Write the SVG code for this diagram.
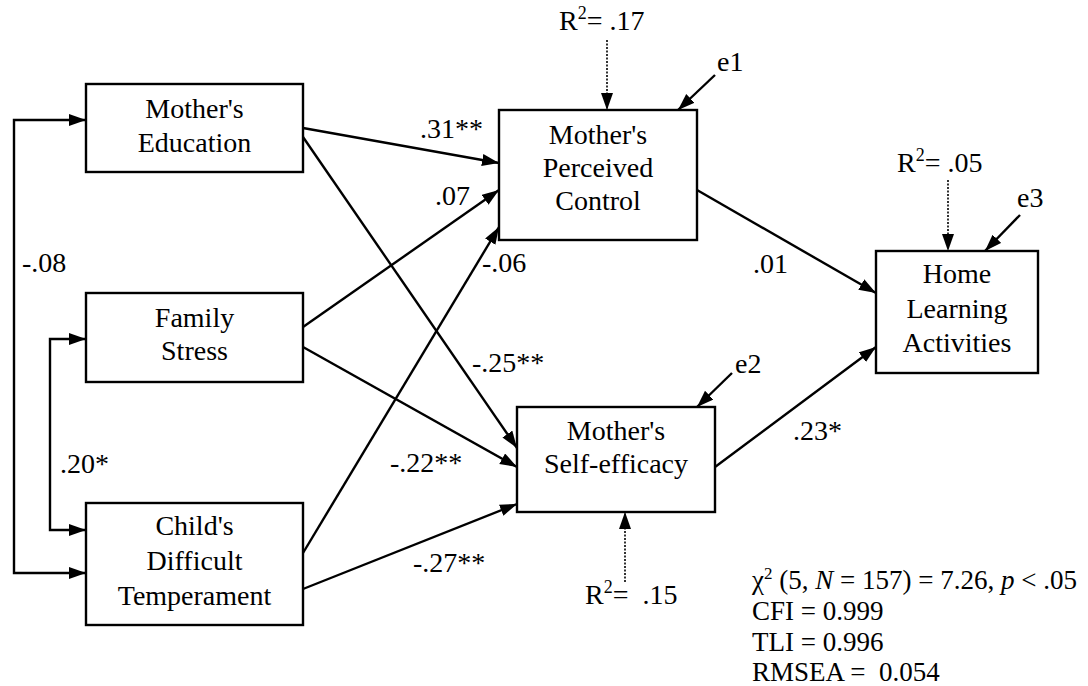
<svg xmlns="http://www.w3.org/2000/svg" width="1088" height="686" viewBox="0 0 1088 686" font-family="'Liberation Serif', 'Times New Roman', serif">
<style>
text{font-family:"Liberation Serif","Times New Roman",serif;font-size:28px;fill:#000;white-space:pre}
.node rect{fill:#fff;stroke:#000;stroke-width:2.4}
.node text{text-anchor:middle}
.edge{fill:none;stroke:#000;stroke-width:2.4;marker-end:url(#ah)}
.dot{fill:none;stroke:#000;stroke-width:1.6;stroke-dasharray:2 1.5;marker-end:url(#ah)}
text.stats{font-size:27px}
</style>
<defs>
<marker id="ah" markerUnits="userSpaceOnUse" markerWidth="18" markerHeight="13" refX="17" refY="6" orient="auto" viewBox="0 0 18 13">
<path d="M0,0 L17,6 L0,12 Z" fill="#000"/>
</marker>
</defs>
<rect width="1088" height="686" fill="#fff"/>
<g id="connectors">
<path class="edge" d="M14,346 V120 H86"/>
<path class="edge" d="M14,346 V573 H86"/>
<path class="edge" d="M50,430 V339 H86"/>
<path class="edge" d="M50,430 V530 H86"/>
<path class="edge" d="M303,128 L499,163"/>
<path class="edge" d="M303,137 L517,448"/>
<path class="edge" d="M303,327 L499,190"/>
<path class="edge" d="M303,347 L517,467"/>
<path class="edge" d="M303,553 L499,227"/>
<path class="edge" d="M303,589 L517,504"/>
<path class="edge" d="M697,190 L876,293"/>
<path class="edge" d="M715,467 L876,347"/>
<path class="edge" d="M715,75 L678,110"/>
<path class="edge" d="M732,373 L697,407"/>
<path class="edge" d="M1020,215 L985,251"/>
<path class="dot" d="M607,40 V110"/>
<path class="dot" d="M948,180 V251"/>
<path class="dot" d="M625,582 V512"/>
<text x="22" y="272">-.08</text>
<text x="60" y="473">.20*</text>
<text x="420" y="138">.31**</text>
<text x="435" y="205">.07</text>
<text x="482" y="272">-.06</text>
<text x="472" y="372">-.25**</text>
<text x="390" y="472">-.22**</text>
<text x="413" y="572">-.27**</text>
<text x="753" y="273">.01</text>
<text x="793" y="440">.23*</text>
<text x="717" y="71">e1</text>
<text x="735" y="373">e2</text>
<text x="1017" y="207">e3</text>
<text x="559" y="30">R<tspan dy="-11" font-size="18">2</tspan><tspan dy="11">= .17</tspan></text>
<text x="897" y="172">R<tspan dy="-11" font-size="18">2</tspan><tspan dy="11">= .05</tspan></text>
<text x="585" y="604">R<tspan dy="-11" font-size="18">2</tspan><tspan dy="11">=  .15</tspan></text>
</g>
<g id="n-mother-education" class="node">
<rect x="86" y="84" width="217" height="88"/>
<text x="194.5" y="118">Mother's</text>
<text x="194.5" y="152">Education</text>
</g>
<g id="n-family-stress" class="node">
<rect x="86" y="293" width="217" height="89"/>
<text x="194.5" y="327">Family</text>
<text x="194.5" y="360">Stress</text>
</g>
<g id="n-child-temperament" class="node">
<rect x="86" y="503" width="217" height="122"/>
<text x="194.5" y="535">Child's</text>
<text x="194.5" y="570">Difficult</text>
<text x="194.5" y="605">Temperament</text>
</g>
<g id="n-perceived-control" class="node">
<rect x="499" y="110" width="198" height="130"/>
<text x="598" y="144">Mother's</text>
<text x="598" y="177">Perceived</text>
<text x="598" y="210">Control</text>
</g>
<g id="n-self-efficacy" class="node">
<rect x="517" y="407" width="198" height="105"/>
<text x="616" y="440">Mother's</text>
<text x="616" y="473">Self-efficacy</text>
</g>
<g id="n-home-learning" class="node">
<rect x="876" y="251" width="162" height="122"/>
<text x="957" y="283">Home</text>
<text x="957" y="318">Learning</text>
<text x="957" y="352">Activities</text>
</g>
<g id="fit-stats">
<text class="stats" x="752" y="589">χ<tspan dy="-10" font-size="17">2</tspan><tspan dy="10"> (5, </tspan><tspan font-style="italic">N</tspan> = 157) = 7.26, <tspan font-style="italic">p</tspan> &lt; .05</text>
<text class="stats" x="752" y="620">CFI = 0.999</text>
<text class="stats" x="752" y="651">TLI = 0.996</text>
<text class="stats" x="752" y="681">RMSEA =  0.054</text>
</g>
</svg>
